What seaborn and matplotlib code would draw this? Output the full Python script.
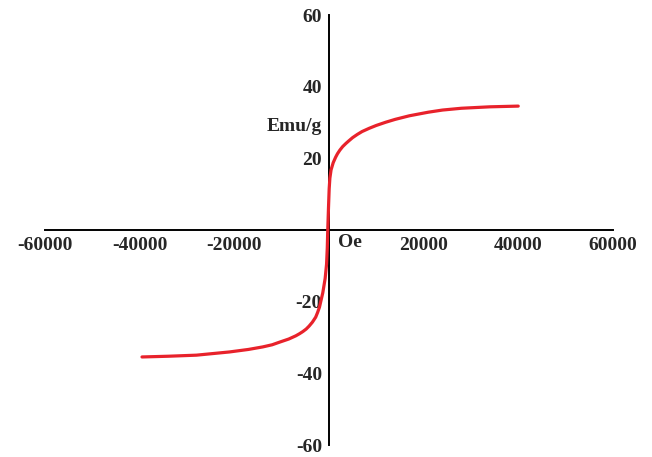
import matplotlib
matplotlib.use("Agg")
import matplotlib.pyplot as plt
import seaborn as sns

# magnetisation loop
field_oe = [-39500, -34000, -28000, -21000, -17000, -14000, -12000, -10500,
            -8500, -7000, -6200, -5500, -4800, -4200, -3500, -2800, -2400,
            -2000, -1300, -800, -500, -350, -250, -100, 50, 200, 450, 900,
            1400, 1800, 2300, 2900, 3600, 4200, 5000, 6000, 7000, 8500,
            10000, 12000, 14000, 17000, 21000, 24000, 28000, 34000, 40000]
moment_emu = [-35.4, -35.2, -34.9, -34.0, -33.3, -32.6, -32.0, -31.3,
              -30.4, -29.5, -28.9, -28.3, -27.6, -26.8, -25.7, -24.3, -23.0,
              -21.5, -17.5, -13.5, -9.5, -5.0, 0.0, 6.0, 11.5, 14.5, 16.8,
              18.8, 20.3, 21.3, 22.3, 23.3, 24.2, 24.9, 25.8, 26.7, 27.5,
              28.4, 29.2, 30.1, 30.9, 31.9, 32.9, 33.5, 34.0, 34.4, 34.6]
x_ticks = [-60000, -40000, -20000, 20000, 40000, 60000]
y_ticks = [-60, -40, -20, 20, 40, 60]

sns.set_style("white")
plt.rcParams['font.family'] = ['Liberation Serif', 'DejaVu Serif']
plt.rcParams['font.weight'] = 'bold'
plt.rcParams['axes.unicode_minus'] = False

fig = plt.figure(figsize=(6.52, 4.57), dpi=100)
ax = fig.add_axes([0.069, 0.026, 0.871, 0.941])

sns.lineplot(x=field_oe, y=moment_emu, sort=False, color="#e8222b",
             linewidth=2.3, ax=ax, zorder=3)

ax.set_xlim(-60000, 60000)
ax.set_ylim(-60, 60)
ax.spines['left'].set_position(('data', 0))
ax.spines['bottom'].set_position(('data', 0))
ax.spines['top'].set_visible(False)
ax.spines['right'].set_visible(False)
for s in ('left', 'bottom'):
    ax.spines[s].set_linewidth(1.4)
    ax.spines[s].set_color('black')

ax.set_xticks(x_ticks)
ax.set_xticklabels([str(v) for v in x_ticks], fontsize=14, fontweight='bold')
ax.set_yticks(y_ticks)
ax.set_yticklabels([str(v) for v in y_ticks], fontsize=14, fontweight='bold')
ax.tick_params(axis='x', direction='in', length=3, width=1, pad=5)
ax.tick_params(axis='y', direction='out', length=3, width=1, pad=2)

ax.text(2000, -3.5, "Oe", fontsize=14, fontweight='bold', ha='left', va='center')
ax.text(-1500, 29, "Emu/g", fontsize=14, fontweight='bold', ha='right', va='center')

fig.savefig("out.png", dpi=100)
